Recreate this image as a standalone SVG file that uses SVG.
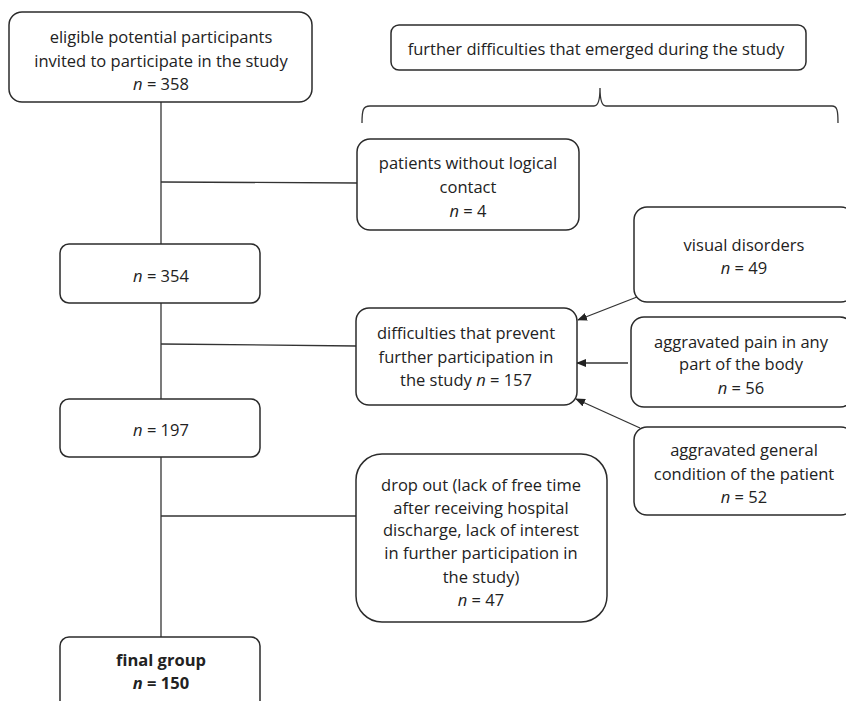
<svg xmlns="http://www.w3.org/2000/svg" width="846" height="701" viewBox="0 0 846 701">
<style>
.box{fill:#fff;stroke:#2b2b2b;stroke-width:1.5}
.t{font-family:"Open Sans","Liberation Sans",Arial,sans-serif;font-size:16.5px;fill:#222;text-anchor:middle}
.b{font-weight:bold}
.ln{stroke:#333;stroke-width:1.3;fill:none}
</style>
<defs>
<marker id="ah" markerWidth="10" markerHeight="8" refX="9" refY="4" orient="auto" markerUnits="userSpaceOnUse">
<path d="M0,0 L10,4 L0,8 Z" fill="#222"/>
</marker>
</defs>
<rect width="846" height="701" fill="#fff"/>
<g id="connectors">
<line class="ln" x1="161" y1="102" x2="161" y2="244"/>
<line class="ln" x1="161" y1="182" x2="357" y2="183"/>
<line class="ln" x1="161" y1="303" x2="161" y2="399"/>
<line class="ln" x1="161" y1="344" x2="356" y2="346"/>
<line class="ln" x1="161" y1="457" x2="161" y2="637"/>
<line class="ln" x1="161" y1="516" x2="356" y2="516"/>
<line class="ln" x1="637" y1="297" x2="578" y2="320" marker-end="url(#ah)"/>
<line class="ln" x1="628" y1="363" x2="577" y2="363" marker-end="url(#ah)"/>
<line class="ln" x1="640" y1="428" x2="576" y2="399" marker-end="url(#ah)"/>
<path class="ln" d="M362,123 C362,110 363,106 370,106 L594,106 C598,106 600,100 600,88 C600,100 602,106 606,106 L832,106 C837,106 838,110 838,123"/>
</g>
<g id="n358">
<rect class="box" x="9" y="12" width="303" height="90" rx="13"/>
<text class="t" x="161" y="43">eligible potential participants</text>
<text class="t" x="161" y="67">invited to participate in the study</text>
<text class="t" x="161" y="90"><tspan font-style="italic">n</tspan> = 358</text>
</g>
<g id="further">
<rect class="box" x="391" y="25" width="415" height="45" rx="8"/>
<text class="t" x="596" y="55">further difficulties that emerged during the study</text>
</g>
<g id="patients">
<rect class="box" x="357" y="139" width="222" height="91" rx="13"/>
<text class="t" x="468" y="169">patients without logical</text>
<text class="t" x="468" y="193">contact</text>
<text class="t" x="468" y="217"><tspan font-style="italic">n</tspan> = 4</text>
</g>
<g id="n354">
<rect class="box" x="60" y="244" width="200" height="59" rx="9"/>
<text class="t" x="161" y="282"><tspan font-style="italic">n</tspan> = 354</text>
</g>
<g id="visual">
<rect class="box" x="634" y="207" width="220" height="95" rx="13"/>
<text class="t" x="744" y="251">visual disorders</text>
<text class="t" x="744" y="274"><tspan font-style="italic">n</tspan> = 49</text>
</g>
<g id="difficulties">
<rect class="box" x="356" y="308" width="221" height="97" rx="13"/>
<text class="t" x="466" y="339">difficulties that prevent</text>
<text class="t" x="466" y="363">further participation in</text>
<text class="t" x="466" y="386">the study <tspan font-style="italic">n</tspan> = 157</text>
</g>
<g id="pain">
<rect class="box" x="631" y="317" width="222" height="90" rx="13"/>
<text class="t" x="741" y="348">aggravated pain in any</text>
<text class="t" x="741" y="370">part of the body</text>
<text class="t" x="741" y="394"><tspan font-style="italic">n</tspan> = 56</text>
</g>
<g id="n197">
<rect class="box" x="60" y="399" width="200" height="58" rx="9"/>
<text class="t" x="161" y="436"><tspan font-style="italic">n</tspan> = 197</text>
</g>
<g id="general">
<rect class="box" x="634" y="427" width="220" height="88" rx="13"/>
<text class="t" x="744" y="456">aggravated general</text>
<text class="t" x="744" y="480">condition of the patient</text>
<text class="t" x="744" y="503"><tspan font-style="italic">n</tspan> = 52</text>
</g>
<g id="dropout">
<rect class="box" x="356" y="454" width="251" height="168" rx="26"/>
<text class="t" x="481" y="491">drop out (lack of free time</text>
<text class="t" x="481" y="514">after receiving hospital</text>
<text class="t" x="481" y="536">discharge, lack of interest</text>
<text class="t" x="481" y="559">in further participation in</text>
<text class="t" x="481" y="583">the study)</text>
<text class="t" x="481" y="606"><tspan font-style="italic">n</tspan> = 47</text>
</g>
<g id="final">
<rect class="box" x="60" y="637" width="200" height="80" rx="9"/>
<text class="t b" x="161" y="666">final group</text>
<text class="t b" x="161" y="689"><tspan font-style="italic">n</tspan> = 150</text>
</g>
</svg>
